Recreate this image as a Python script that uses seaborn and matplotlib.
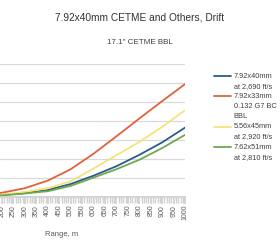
'''7.92x40mm CETME and others - wind drift chart'''
import numpy as np
import pandas as pd
import seaborn as sns
import matplotlib.pyplot as plt
from matplotlib.ticker import MultipleLocator
from matplotlib.legend_handler import HandlerLine2D

# Range in metres, drift in inches
ranges = [0, 100, 200, 300, 400, 500, 600, 700, 800, 900, 1000]
drift_792x40 = [0, 1, 4, 9, 17, 33, 55, 80, 110, 143, 182]
drift_792x33 = [0, 2, 10, 22, 42, 72, 113, 159, 206, 252, 297]
drift_556x45 = [0, 1, 5, 12, 22, 40, 74, 109, 144, 184, 228]
drift_762x51 = [0, 1, 3, 8, 14, 28, 50, 72, 97, 128, 163]

loads = [
    '7.92x40mm\nat 2,690 ft/s',
    '7.92x33mm\n0.132 G7 BC\nBBL',
    '5.56x45mm\nat 2,920 ft/s',
    '7.62x51mm\nat 2,810 ft/s',
]
colors = ['#2c5a8c', '#e2613c', '#f3e47a', '#6ea94e']

LEG_SIZE = 5.3
LEG_SPACING = 1.6


class FirstLineHandler(HandlerLine2D):
    '''Puts the legend line next to the first text line, like Excel does.'''
    def __init__(self, shift, **kwargs):
        super().__init__(**kwargs)
        self.shift = shift

    def create_artists(self, legend, orig_handle, xdescent, ydescent,
                       width, height, fontsize, trans):
        artists = super().create_artists(legend, orig_handle, xdescent, ydescent,
                                         width, height, fontsize, trans)
        for art in artists:
            art.set_ydata(np.asarray(art.get_ydata()) + self.shift)
        return artists


frames = []
for name, vals in zip(loads, [drift_792x40, drift_792x33, drift_556x45, drift_762x51]):
    frames.append(pd.DataFrame({'range': ranges, 'drift': vals, 'load': name}))
df = pd.concat(frames, ignore_index=True)

sns.set_theme(style='whitegrid')
plt.rcParams['font.family'] = ['Liberation Sans', 'DejaVu Sans']
plt.rcParams['savefig.bbox'] = 'standard'

fig = plt.figure(figsize=(2.8, 2.5), dpi=100)
# the source image is cropped on the left, so the range starts near 190 m
ax = fig.add_axes([0.0, 0.214, 0.661, 0.53])

sns.lineplot(
    data=df, x='range', y='drift', hue='load',
    palette=colors, linewidth=1.3, ax=ax, legend=True
)

ax.set_xlim(191, 1000)
ax.set_ylim(0, 350)
ax.xaxis.set_major_locator(MultipleLocator(50))
ax.xaxis.set_minor_locator(MultipleLocator(10))
ax.yaxis.set_major_locator(MultipleLocator(50))
ax.grid(axis='y', color='#d9d9d9', linewidth=0.9)
ax.grid(axis='x', visible=False)
for side in ['left', 'right', 'top']:
    ax.spines[side].set_visible(False)
ax.spines['bottom'].set_color('#d0d0d0')
ax.tick_params(axis='x', which='both', bottom=True, direction='out',
               color='#d0d0d0', labelsize=5, labelcolor='#595959',
               labelrotation=90, pad=1)
ax.tick_params(axis='x', which='major', length=5)
ax.tick_params(axis='x', which='minor', length=4)
ax.tick_params(axis='y', labelleft=False, length=0)

ax.set_xlabel('Range, m', fontsize=5.5, color='#595959')
ax.xaxis.set_label_coords(0.335, -0.26)
ax.set_ylabel('')

fig.text(0.5, 0.932, '7.92x40mm CETME and Others, Drift',
         ha='center', va='center', fontsize=7.3, color='#333333')
fig.text(0.5, 0.832, '17.1" CETME BBL',
         ha='center', va='center', fontsize=5.8, color='#404040')

handles, labels = ax.get_legend_handles_labels()
ax.legend_.remove()
handler_map = {}
for hnd, lab in zip(handles, labels):
    n_lines = lab.count('\n') + 1
    handler_map[hnd] = FirstLineHandler((n_lines - 1) / 2 * LEG_SIZE * LEG_SPACING * 0.85)
leg = fig.legend(handles, labels, loc='upper left', bbox_to_anchor=(0.74, 0.736),
                 frameon=False, fontsize=LEG_SIZE, labelcolor='#404040',
                 handlelength=2.4, handletextpad=0.3, labelspacing=0.45,
                 handler_map=handler_map)
for txt in leg.get_texts():
    txt.set_linespacing(LEG_SPACING)

fig.savefig('out.png', dpi=100)
